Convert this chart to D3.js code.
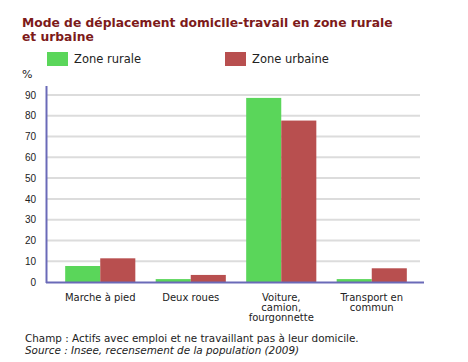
<!DOCTYPE html>
<html>
<head>
<meta charset="utf-8">
<script src="https://cdn.jsdelivr.net/npm/d3@7"></script>
<style>
  body { margin: 0; background: #fff; }
  svg { display: block; font-family: Verdana, "DejaVu Sans", sans-serif; }
</style>
</head>
<body>
<div id="chart"></div>
<script>
// chart values
var categories = ["Marche à pied", "Deux roues", "Voiture, camion, fourgonnette", "Transport en commun"];
var categoryLines = [["Marche à pied"], ["Deux roues"], ["Voiture,", "camion,", "fourgonnette"], ["Transport en", "commun"]];
var seriesNames = ["Zone rurale", "Zone urbaine"];
var rurale = [7.7, 1.4, 88.6, 1.4];
var urbaine = [11.4, 3.4, 77.7, 6.6];
var yTicks = [0, 10, 20, 30, 40, 50, 60, 70, 80, 90];

var colors = {green: "#5ad65a", red: "#b84f4f", grid: "#dcdcdc", axis: "#6a6ab8", title: "#7d1a1a", text: "#222"};

var svg = d3.select("#chart").append("svg")
    .attr("width", 468)
    .attr("height", 362);

/* title */
var title = svg.append("text")
    .attr("fill", colors.title)
    .attr("font-size", "12.3px")
    .attr("font-weight", "bold");
title.append("tspan").attr("x", 22).attr("y", 27).text("Mode de déplacement domicile-travail en zone rurale");
title.append("tspan").attr("x", 22).attr("y", 41).text("et urbaine");

/* legend */
var legendX = [47, 225];
var legend = svg.selectAll("g.legend")
    .data(seriesNames)
    .enter()
    .append("g")
    .attr("class", "legend")
    .attr("transform", function (d, i) { return "translate(" + legendX[i] + ",52)"; });
legend.append("rect")
    .attr("width", 21)
    .attr("height", 14)
    .attr("fill", function (d, i) { return i === 0 ? colors.green : colors.red; });
legend.append("text")
    .attr("x", 27)
    .attr("y", 11)
    .attr("font-size", "11.5px")
    .attr("fill", colors.text)
    .text(function (d) { return d; });

/* unit */
svg.append("text")
    .attr("x", 22)
    .attr("y", 78)
    .attr("font-size", "11px")
    .attr("fill", colors.text)
    .text("%");

/* scales */
var y = d3.scaleLinear().domain([0, 90]).range([282, 95]);
var x = d3.scaleBand().domain(categories).range([55, 417]).paddingInner(0.225).paddingOuter(0.1125);
var xs = d3.scaleBand().domain(seriesNames).range([0, x.bandwidth()]);

/* gridlines */
svg.append("g")
    .selectAll("line")
    .data(yTicks.filter(function (d) { return d > 0; }))
    .enter()
    .append("line")
    .attr("x1", 46)
    .attr("x2", 420)
    .attr("y1", function (d) { return y(d); })
    .attr("y2", function (d) { return y(d); })
    .attr("stroke", colors.grid)
    .attr("stroke-width", 2);

/* y axis labels */
var yAxis = svg.append("g")
    .attr("transform", "translate(46,0)")
    .call(d3.axisLeft(y).tickValues(yTicks).tickSize(0).tickPadding(10));
yAxis.select(".domain").remove();
yAxis.selectAll("text")
    .attr("font-family", null)
    .attr("font-size", "10px")
    .attr("fill", colors.text);

/* bars */
var groups = svg.append("g")
    .selectAll("g")
    .data(categories)
    .enter()
    .append("g")
    .attr("transform", function (d) { return "translate(" + x(d) + ",0)"; });
groups.selectAll("rect")
    .data(function (d, i) {
      return [
        {key: seriesNames[0], value: rurale[i], color: colors.green},
        {key: seriesNames[1], value: urbaine[i], color: colors.red}
      ];
    })
    .enter()
    .append("rect")
    .attr("x", function (d) { return xs(d.key); })
    .attr("y", function (d) { return y(d.value); })
    .attr("width", xs.bandwidth())
    .attr("height", function (d) { return y(0) - y(d.value); })
    .attr("fill", function (d) { return d.color; });

/* axis lines */
svg.append("line")
    .attr("x1", 46.5).attr("x2", 46.5)
    .attr("y1", 86).attr("y2", 283)
    .attr("stroke", colors.axis)
    .attr("stroke-width", 2);
svg.append("line")
    .attr("x1", 46).attr("x2", 424)
    .attr("y1", 282.5).attr("y2", 282.5)
    .attr("stroke", colors.axis)
    .attr("stroke-width", 2);

/* category labels */
var xLabels = svg.append("g")
    .selectAll("text")
    .data(categories)
    .enter()
    .append("text")
    .attr("text-anchor", "middle")
    .attr("font-size", "10px")
    .attr("fill", colors.text)
    .attr("transform", function (d) { return "translate(" + (x(d) + x.bandwidth() / 2) + ",301)"; });
xLabels.selectAll("tspan")
    .data(function (d, i) { return categoryLines[i]; })
    .enter()
    .append("tspan")
    .attr("x", 0)
    .attr("y", function (d, i) { return i * 10; })
    .text(function (d) { return d; });

/* footnotes */
svg.append("text")
    .attr("x", 25)
    .attr("y", 342)
    .attr("font-size", "10.4px")
    .attr("fill", colors.text)
    .text("Champ : Actifs avec emploi et ne travaillant pas à leur domicile.");
svg.append("text")
    .attr("x", 25)
    .attr("y", 354)
    .attr("font-size", "10.4px")
    .attr("font-style", "italic")
    .attr("fill", colors.text)
    .text("Source : Insee, recensement de la population (2009)");
</script>
</body>
</html>
